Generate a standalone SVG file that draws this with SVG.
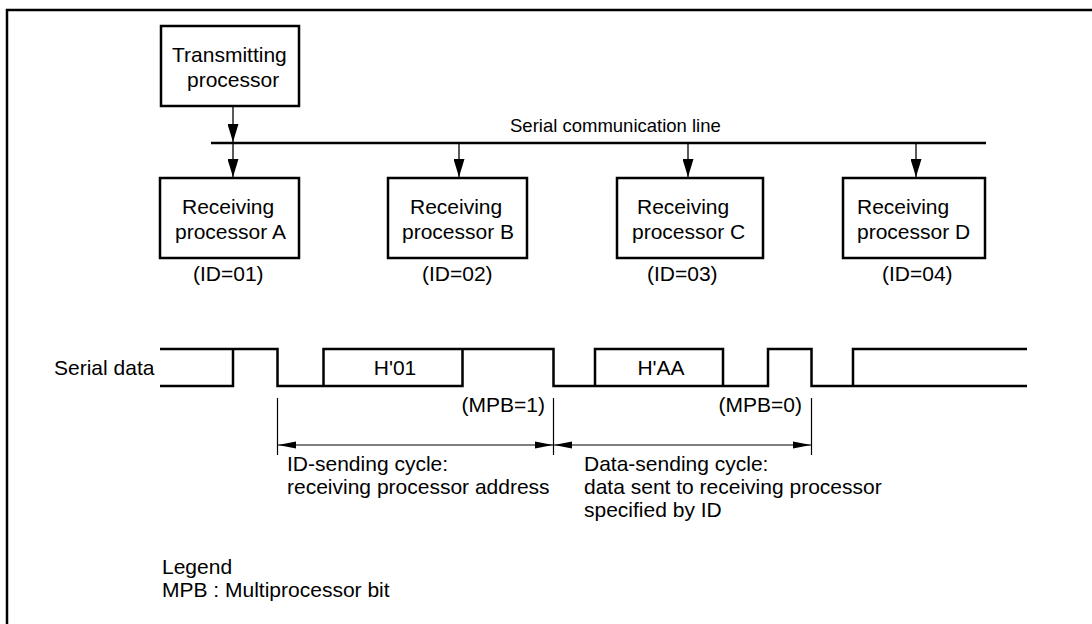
<svg xmlns="http://www.w3.org/2000/svg" width="1092" height="624" viewBox="0 0 1092 624">
<style>
text{font-family:"Liberation Sans",Arial,sans-serif;font-size:21px;fill:#000}
.box{fill:#fff;stroke:#000;stroke-width:2.5}
.bus{fill:none;stroke:#000;stroke-width:2.5}
.conn{fill:none;stroke:#000;stroke-width:1.3}
.dim{fill:none;stroke:#000;stroke-width:1.2}
.small{font-size:18.5px}
.mid{text-anchor:middle}
.end{text-anchor:end}
</style>
<defs>
<marker id="ah" markerUnits="userSpaceOnUse" markerWidth="18" markerHeight="11" refX="18" refY="5.5" orient="auto">
<path d="M0,0 L18,5.5 L0,11 Z" fill="#000"/>
</marker>
<marker id="dh" markerUnits="userSpaceOnUse" markerWidth="18" markerHeight="8" refX="18" refY="4" orient="auto-start-reverse">
<path d="M0,0.5 L18,4 L0,7.5 Z" fill="#000"/>
</marker>
</defs>
<rect width="1092" height="624" fill="#fff"/>
<path d="M7,626 V10 H1094" fill="none" stroke="#000" stroke-width="2.5"/>

<g id="transmitter">
<rect class="box" x="161" y="26" width="138" height="80"/>
<text x="172" y="62">Transmitting</text>
<text x="187" y="87">processor</text>
</g>

<g id="bus">
<line class="bus" x1="211" y1="143" x2="986" y2="143"/>
<text class="small" x="510" y="132">Serial communication line</text>
</g>

<g id="connectors">
<line class="conn" x1="233" y1="106" x2="233" y2="142" marker-end="url(#ah)"/>
<line class="conn" x1="233" y1="144" x2="233" y2="177" marker-end="url(#ah)"/>
<line class="conn" x1="459" y1="144" x2="459" y2="177" marker-end="url(#ah)"/>
<line class="conn" x1="688" y1="144" x2="688" y2="177" marker-end="url(#ah)"/>
<line class="conn" x1="916" y1="144" x2="916" y2="177" marker-end="url(#ah)"/>
</g>

<g id="receiverA">
<rect class="box" x="160" y="178" width="139" height="80"/>
<text x="182" y="214">Receiving</text>
<text x="175" y="239">processor A</text>
<text x="193" y="281">(ID=01)</text>
</g>
<g id="receiverB">
<rect class="box" x="388" y="178" width="139" height="80"/>
<text x="410" y="214">Receiving</text>
<text x="402" y="239">processor B</text>
<text x="422" y="281">(ID=02)</text>
</g>
<g id="receiverC">
<rect class="box" x="617" y="178" width="146" height="80"/>
<text x="637" y="214">Receiving</text>
<text x="632" y="239">processor C</text>
<text x="647" y="281">(ID=03)</text>
</g>
<g id="receiverD">
<rect class="box" x="843" y="178" width="142" height="80"/>
<text x="857" y="214">Receiving</text>
<text x="857" y="239">processor D</text>
<text x="882" y="281">(ID=04)</text>
</g>

<g id="serial-data">
<text x="54" y="375">Serial data</text>
<path class="bus" d="M160,349 H277.5 V386 H462.5 V349 H553.5 V386 H768 V349 H811.5 V386 H1027 M160,386 H233 V349 M323.5,386 V349 H462.5 M595,386 V349 H723 V386 M853,386 V349 H1027"/>
<text class="mid" x="395" y="375">H'01</text>
<text class="mid" x="661" y="375">H'AA</text>
<text class="end" x="545" y="412">(MPB=1)</text>
<text class="end" x="802" y="412">(MPB=0)</text>
</g>

<g id="cycles">
<line class="dim" x1="277.5" y1="398" x2="277.5" y2="455"/>
<line class="dim" x1="553.5" y1="398" x2="553.5" y2="455"/>
<line class="dim" x1="811.5" y1="398" x2="811.5" y2="455"/>
<line class="dim" x1="278" y1="445" x2="553" y2="445" marker-start="url(#dh)" marker-end="url(#dh)"/>
<line class="dim" x1="554" y1="445" x2="811" y2="445" marker-start="url(#dh)" marker-end="url(#dh)"/>
<text x="287" y="471">ID-sending cycle:</text>
<text x="287" y="494">receiving processor address</text>
<text x="584" y="471">Data-sending cycle:</text>
<text x="584" y="494">data sent to receiving processor</text>
<text x="584" y="517">specified by ID</text>
</g>

<g id="legend">
<text x="162" y="574">Legend</text>
<text x="162" y="597">MPB : Multiprocessor bit</text>
</g>
</svg>
